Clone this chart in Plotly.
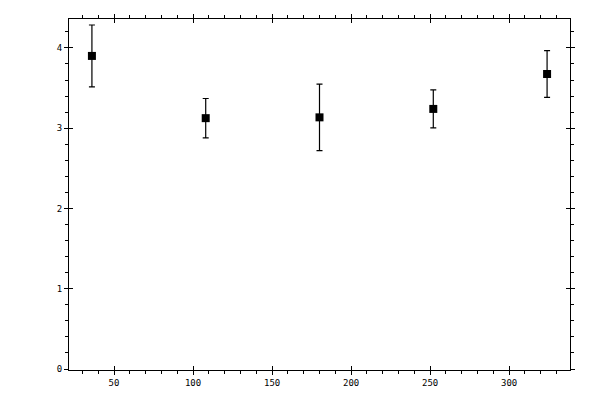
import plotly.graph_objects as go

# datos
angulos = [36, 108, 180, 252, 324]
valores = [3.90, 3.125, 3.135, 3.24, 3.675]
errores = [0.385, 0.245, 0.415, 0.237, 0.29]

x_rango = [21.5, 338.5]
y_rango = [-0.012, 4.36]

fig = go.Figure()
fig.add_trace(go.Scatter(
    x=angulos, y=valores, mode='markers',
    marker=dict(symbol='square', size=8, color='black'),
    error_y=dict(type='data', array=errores, visible=True,
                 color='black', thickness=1.2, width=3),
    showlegend=False, hoverinfo='skip'
))
# traza fantasma para activar los ejes superpuestos
fig.add_trace(go.Scatter(x=[None], y=[None], xaxis='x2', yaxis='y2',
                         showlegend=False))

fuente = dict(family='DejaVu Sans Mono', size=9, color='black')
eje = dict(showgrid=False, zeroline=False, showline=True, linecolor='black',
           linewidth=1.2, mirror='allticks', ticks='outside', ticklen=4,
           tickwidth=1.2, tickcolor='black', tickfont=fuente, automargin=False)

# la pagina añade ~8px de margen, se compensa aqui
fig.update_layout(
    width=600, height=400,
    margin=dict(l=61, r=38, t=11, b=38),
    plot_bgcolor='white', paper_bgcolor='white',
    xaxis=dict(eje, range=x_rango, tickvals=[50, 100, 150, 200, 250, 300],
               minor=dict(dtick=10, tick0=0, ticks='outside', ticklen=3,
                          tickwidth=1, tickcolor='black')),
    yaxis=dict(eje, range=y_rango, tickvals=[0, 1, 2, 3, 4],
               minor=dict(dtick=0.2, tick0=0, ticks='outside', ticklen=3,
                          tickwidth=1, tickcolor='black')),
    xaxis2=dict(overlaying='x', matches='x', range=x_rango, showgrid=False,
                zeroline=False, showline=False, mirror='ticks', ticks='inside',
                ticklen=4, tickwidth=1.2, tickcolor='black',
                tickvals=[50, 100, 150, 200, 250, 300], showticklabels=False),
    yaxis2=dict(overlaying='y', matches='y', range=y_rango, showgrid=False,
                zeroline=False, showline=False, mirror='ticks', ticks='inside',
                ticklen=4, tickwidth=1.2, tickcolor='black',
                tickvals=[0, 1, 2, 3, 4], showticklabels=False),
)

fig.write_html("out.html")
